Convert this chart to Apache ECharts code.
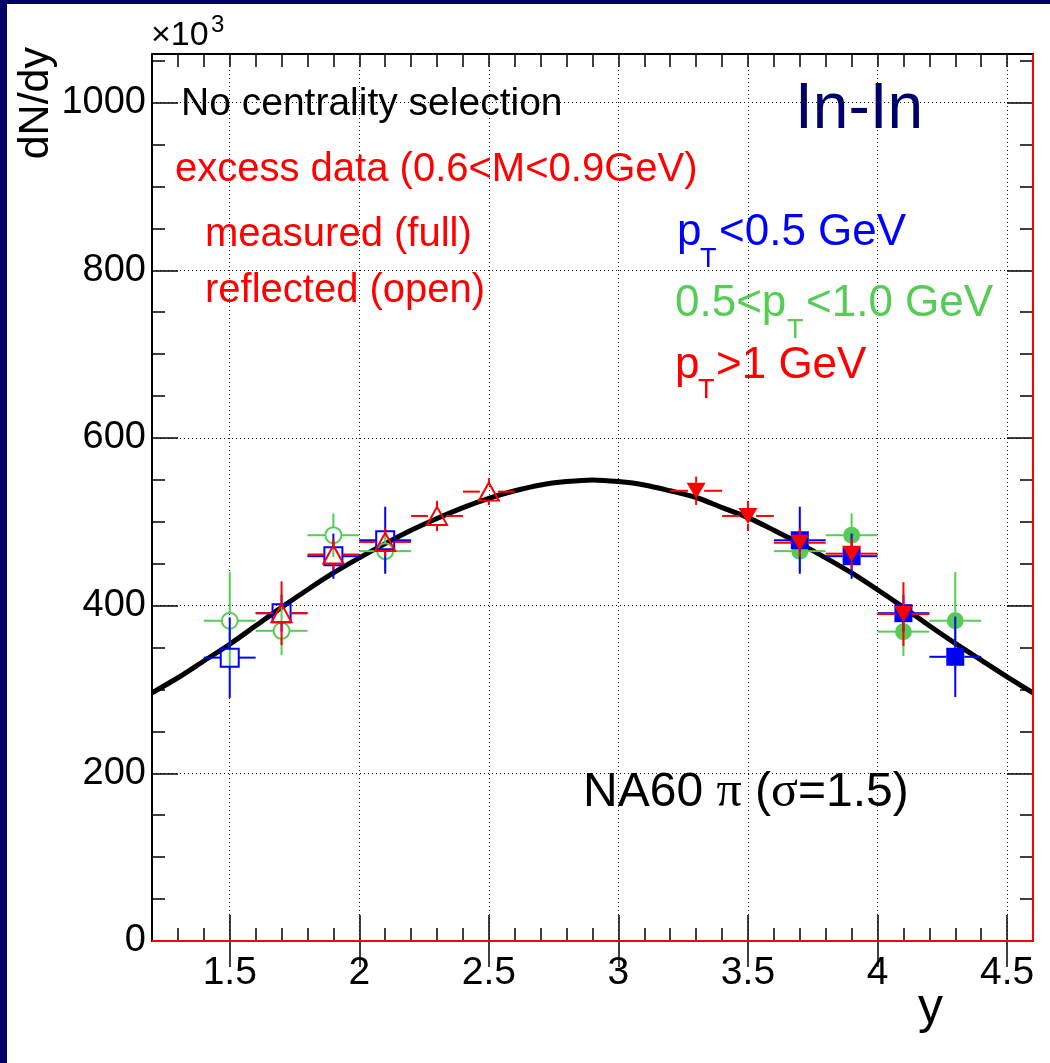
<!DOCTYPE html>
<html><head><meta charset="utf-8">
<script src="https://cdn.jsdelivr.net/npm/echarts@6/dist/echarts.min.js"></script>
<style>html,body{margin:0;padding:0;background:#000068;} #c{width:1050px;height:1063px;}</style>
</head><body><div id="c"></div>
<script>
// ---------------- data ----------------
const xMin = 1.2, xMax = 4.6, yMin = 0, yMax = 1058;
const xMajorTicks = [1.5, 2, 2.5, 3, 3.5, 4, 4.5];
const xTickLabels = ['1.5', '2', '2.5', '3', '3.5', '4', '4.5'];
const yMajorStep = 200, yMinorStep = 50, xMinorStep = 0.1;

// Gaussian-like curve
const curveX = [1.2,1.3,1.4,1.5,1.6,1.7,1.8,1.9,2.0,2.1,2.2,2.3,2.4,2.5,2.6,2.7,2.8,2.9,3.0,3.1,3.2,3.3,3.4,3.5,3.6,3.7,3.8,3.9,4.0,4.1,4.2,4.3,4.4,4.5,4.6];
const curveY = [296,314,334,354,376,398,419,439,457,474,490,504,517,528,537,544,548,550,548,544,537,529,517,505,490,474,457,439,419,398,376,355,335,315,296];

const binHalfWidth = 0.1;

// pT < 0.5 GeV (blue squares)
const lowPtReflX = [1.5, 1.7, 1.9, 2.1];
const lowPtReflY = [338, 391, 459, 478];
const lowPtReflErr = [48, 22, 27, 40];
const lowPtMeasX = [3.7, 3.9, 4.1, 4.3];
const lowPtMeasY = [478, 459, 391, 339];
const lowPtMeasErr = [40, 27, 22, 48];

// 0.5 < pT < 1.0 GeV (green circles)
const midPtReflX = [1.5, 1.7, 1.9, 2.1];
const midPtReflY = [382, 370, 484, 465];
const midPtReflErr = [58, 29, 26, 25];
const midPtMeasX = [3.7, 3.9, 4.1, 4.3];
const midPtMeasY = [465, 484, 369, 382];
const midPtMeasErr = [25, 26, 29, 58];

// pT > 1 GeV (red triangles)
const highPtReflX = [1.7, 1.9, 2.1, 2.3, 2.5];
const highPtReflY = [391, 461, 476, 507, 536];
const highPtReflErr = [38, 18, 17, 18, 16];
const highPtMeasX = [3.3, 3.5, 3.7, 3.9, 4.1];
const highPtMeasY = [537, 507, 475, 462, 390];
const highPtMeasErr = [17, 18, 17, 18, 38];

// red outline along y=0 and x=xMax
const redOutlineX = [xMin, xMax, xMax];
const redOutlineY = [0, 0, yMax];

// ---------------- styles ----------------
const BLUE = '#0000ff', GREEN = '#55cc55', RED = '#ff0000', NAVY = '#000068';
const SANS = '"Liberation Sans", Arial, Helvetica, sans-serif';
const SERIF = '"Liberation Serif", "Times New Roman", serif';

function errSeries(xs, ys, es, color, gap, z) {
  return {
    type: 'custom', z: z, silent: true, clip: true,
    data: xs.map((x, i) => [x, ys[i], es[i], binHalfWidth]),
    encode: { x: 0, y: 1 },
    renderItem: function (params, api) {
      const x = api.value(0), y = api.value(1), e = api.value(2), w = api.value(3);
      const c = api.coord([x, y]), t = api.coord([x, y + e]), b = api.coord([x, y - e]);
      const l = api.coord([x - w, y]), r = api.coord([x + w, y]);
      const segs = [];
      if (c[1] - gap > t[1]) segs.push([c[0], t[1], c[0], c[1] - gap]);
      if (b[1] > c[1] + gap) segs.push([c[0], c[1] + gap, c[0], b[1]]);
      segs.push([l[0], c[1], c[0] - gap, c[1]]);
      segs.push([c[0] + gap, c[1], r[0], c[1]]);
      return {
        type: 'group',
        children: segs.map(s => ({ type: 'line', shape: { x1: s[0], y1: s[1], x2: s[2], y2: s[3] }, style: { stroke: color, lineWidth: 2 } }))
      };
    }
  };
}
function markSeries(xs, ys, symbol, size, color, filled, rotate, z) {
  return {
    type: 'scatter', z: z, silent: true, symbol: symbol, symbolSize: size, symbolRotate: rotate || 0,
    data: xs.map((x, i) => [x, ys[i]]),
    itemStyle: filled ? { color: color, opacity: 1 } : { color: 'rgba(0,0,0,0)', borderColor: color, borderWidth: 2, opacity: 1 },
    emphasis: { disabled: true }
  };
}
function txt(text, x, y, size, color, family, extra) {
  const o = {
    type: 'text', x: x, y: y, z: 50, silent: true,
    style: { text: text, fill: color, fontSize: size, fontFamily: family || SANS,
      textAlign: 'left', align: 'left', textVerticalAlign: 'middle', verticalAlign: 'middle' }
  };
  if (extra) Object.assign(o, extra);
  return o;
}

const tickStyle = { color: '#000', width: 1.5 };
const blackLine = { show: true, onZero: false, lineStyle: { color: '#000', width: 2 } };
const gridDots = { show: true, lineStyle: { color: '#111', width: 1, type: [1, 3] } };

function xAx(pos, major, withLabels) {
  const a = { type: 'value', min: xMin, max: xMax, position: pos, splitLine: { show: false },
    axisLine: major ? { show: false } : blackLine };
  if (major) {
    a.axisTick = { show: true, inside: true, length: 26, lineStyle: tickStyle, customValues: xMajorTicks };
    a.axisLabel = withLabels ? {
      show: true, customValues: xMajorTicks, margin: 13, color: '#000', fontSize: 39, fontFamily: SANS,
      formatter: function (v) { const i = xMajorTicks.findIndex(t => Math.abs(t - v) < 1e-6); return i >= 0 ? xTickLabels[i] : ''; }
    } : { show: false };
    if (withLabels) a.splitLine = gridDots;
  } else {
    a.interval = xMinorStep;
    a.axisTick = { show: true, inside: true, length: 13, lineStyle: tickStyle };
    a.axisLabel = { show: false };
  }
  return a;
}
function yAx(pos, major, withLabels) {
  const a = { type: 'value', min: yMin, max: yMax, position: pos, splitLine: { show: false },
    axisLine: major ? { show: false } : blackLine };
  if (major) {
    a.interval = yMajorStep;
    a.axisTick = { show: true, inside: true, length: 26, lineStyle: tickStyle };
    a.axisLabel = withLabels ? { show: true, margin: 6, color: '#000', fontSize: 38, fontFamily: SANS, showMaxLabel: false,
      formatter: function (v) { return v > 1000 ? '' : String(v); } } : { show: false };
    if (withLabels) a.splitLine = gridDots;
  } else {
    a.interval = yMinorStep;
    a.axisTick = { show: true, inside: true, length: 13, lineStyle: tickStyle };
    a.axisLabel = { show: false };
  }
  return a;
}

const option = {
  backgroundColor: NAVY,
  animation: false,
  grid: { left: 152, right: 17, top: 54, bottom: 122, containLabel: false },
  xAxis: [xAx('bottom', false), xAx('bottom', true, true), xAx('top', false), xAx('top', true, false)],
  yAxis: [yAx('left', false), yAx('left', true, true), yAx('right', false), yAx('right', true, false)],
  series: [
    { type: 'line', z: 2, silent: true, smooth: 0.3, showSymbol: false, symbol: 'none', clip: true,
      data: curveX.map((x, i) => [x, curveY[i]]), lineStyle: { color: '#000', width: 5 } },
    errSeries(midPtReflX, midPtReflY, midPtReflErr, GREEN, 8, 3),
    markSeries(midPtReflX, midPtReflY, 'circle', 16, GREEN, false, 0, 4),
    errSeries(midPtMeasX, midPtMeasY, midPtMeasErr, GREEN, 8, 3),
    markSeries(midPtMeasX, midPtMeasY, 'circle', 17, GREEN, true, 0, 4),
    errSeries(lowPtReflX, lowPtReflY, lowPtReflErr, BLUE, 9, 5),
    markSeries(lowPtReflX, lowPtReflY, 'rect', 18, BLUE, false, 0, 6),
    errSeries(lowPtMeasX, lowPtMeasY, lowPtMeasErr, BLUE, 9, 5),
    markSeries(lowPtMeasX, lowPtMeasY, 'rect', 18, BLUE, true, 0, 6),
    errSeries(highPtReflX, highPtReflY, highPtReflErr, RED, 9, 7),
    markSeries(highPtReflX, highPtReflY, 'triangle', [20, 18], RED, false, 0, 8),
    errSeries(highPtMeasX, highPtMeasY, highPtMeasErr, RED, 8, 7),
    markSeries(highPtMeasX, highPtMeasY, 'triangle', [19, 16], RED, true, 180, 8),
    { type: 'line', z: 9, silent: true, showSymbol: false, symbol: 'none', clip: false,
      data: redOutlineX.map((x, i) => [x, redOutlineY[i]]), lineStyle: { color: RED, width: 2 } }
  ],
  graphic: [
    { type: 'rect', z: -100, silent: true, shape: { x: 7, y: 4, width: 1043, height: 1059 }, style: { fill: '#ffffff' } },
    txt('No centrality selection', 181, 104, 39, '#000'),
    txt('excess data (0.6<M<0.9GeV)', 175, 170, 40, RED),
    txt('measured (full)', 205, 235, 40, RED),
    txt('reflected (open)', 205, 291, 40, RED),
    txt('In-In', 795, 110, 64, NAVY),
    txt('p', 677, 233, 44, BLUE), txt('T', 700, 260, 27, BLUE), txt('<0.5 GeV', 719, 233, 44, BLUE),
    txt('0.5<p', 675, 304, 44, GREEN), txt('T', 787, 331, 27, GREEN), txt('<1.0 GeV', 806, 304, 44, GREEN),
    txt('p', 675, 366, 44, RED), txt('T', 698, 391, 27, RED), txt('>1 GeV', 716, 366, 44, RED),
    {
      type: 'text', x: 583, y: 793, z: 50, silent: true,
      style: {
        text: '{a|NA60 }{s|π}{a| (}{s|σ}{a|=1.5)}', fill: '#000', textAlign: 'left', align: 'left', textVerticalAlign: 'middle', verticalAlign: 'middle',
        rich: { a: { fontSize: 48, fontFamily: SANS, fill: '#000', color: '#000' }, s: { fontSize: 50, fontFamily: SERIF, fill: '#000', color: '#000' } }
      }
    },
    txt('×10', 151, 36, 34, '#000'),
    txt('3', 211, 25, 24, '#000'),
    txt('y', 918, 1009, 50, '#000'),
    { type: 'text', x: 36, y: 47, rotation: Math.PI / 2, z: 50, silent: true,
      style: { text: 'dN/dy', fill: '#000', fontSize: 43, fontFamily: SANS, textAlign: 'right', align: 'right', textVerticalAlign: 'middle', verticalAlign: 'middle' } }
  ]
};

const chart = echarts.init(document.getElementById('c'), null, { renderer: 'canvas', width: 1050, height: 1063 });
chart.setOption(option);
</script></body></html>
